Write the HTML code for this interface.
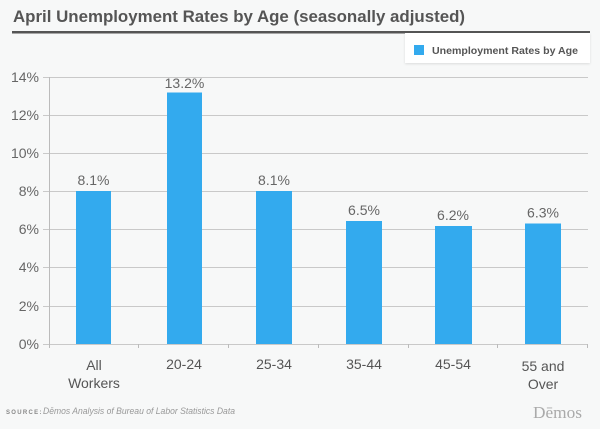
<!DOCTYPE html>
<html><head><meta charset="utf-8"><style>
html,body{margin:0;padding:0;background:#f7f8f8;}
svg{display:block;font-family:"Liberation Sans",Arial,sans-serif;}
</style></head><body>
<svg width="600" height="429" viewBox="0 0 600 429" xmlns="http://www.w3.org/2000/svg">
<defs>
<filter id="sh" x="-5%" y="-20%" width="110%" height="150%"><feGaussianBlur in="SourceAlpha" stdDeviation="1.2"/><feOffset dy="1"/><feComponentTransfer><feFuncA type="linear" slope="0.12"/></feComponentTransfer><feMerge><feMergeNode/><feMergeNode in="SourceGraphic"/></feMerge></filter>
</defs>
<rect width="600" height="429" fill="#f7f8f8"/>
<text x="13" y="22" font-size="17" font-weight="bold" fill="#555" textLength="452" lengthAdjust="spacingAndGlyphs">April Unemployment Rates by Age (seasonally adjusted)</text>
<rect x="12" y="31" width="578" height="2.5" fill="#555"/>
<rect x="405" y="33" width="185" height="30" fill="#fff" filter="url(#sh)"/>
<rect x="414" y="45" width="10" height="10" fill="#33aaee"/>
<text x="432" y="54" font-size="10" font-weight="bold" fill="#555" textLength="146" lengthAdjust="spacingAndGlyphs">Unemployment Rates by Age</text>
<g stroke="#c9c9c9" stroke-width="1">
<line x1="43" y1="77.5" x2="588" y2="77.5"/>
<line x1="43" y1="115.5" x2="588" y2="115.5"/>
<line x1="43" y1="153.5" x2="588" y2="153.5"/>
<line x1="43" y1="191.5" x2="588" y2="191.5"/>
<line x1="43" y1="229.5" x2="588" y2="229.5"/>
<line x1="43" y1="267.5" x2="588" y2="267.5"/>
<line x1="43" y1="306.5" x2="588" y2="306.5"/>
<line x1="43" y1="344.5" x2="588" y2="344.5"/>
</g>
<line x1="49.5" y1="77" x2="49.5" y2="345" stroke="#bbb"/>
<g stroke="#bbb">
<line x1="49.5" y1="344" x2="49.5" y2="348"/>
<line x1="138.5" y1="344" x2="138.5" y2="348"/>
<line x1="228.5" y1="344" x2="228.5" y2="348"/>
<line x1="318.5" y1="344" x2="318.5" y2="348"/>
<line x1="408.5" y1="344" x2="408.5" y2="348"/>
<line x1="497.5" y1="344" x2="497.5" y2="348"/>
<line x1="587.5" y1="344" x2="587.5" y2="348"/>
</g>
<g font-size="14" fill="#666" text-anchor="end">
<text x="39" y="82">14%</text>
<text x="39" y="120">12%</text>
<text x="39" y="158">10%</text>
<text x="39" y="196">8%</text>
<text x="39" y="234">6%</text>
<text x="39" y="272">4%</text>
<text x="39" y="311">2%</text>
<text x="39" y="349">0%</text>
</g>
<g fill="#33aaee">
<rect x="76" y="191" width="35" height="153"/>
<rect x="167" y="92.5" width="35" height="251.5"/>
<rect x="256" y="191" width="36" height="153"/>
<rect x="346" y="221" width="36" height="123"/>
<rect x="435" y="226" width="37" height="118"/>
<rect x="525" y="223.5" width="36" height="120.5"/>
</g>
<g font-size="14" fill="#666" text-anchor="middle">
<text x="93.5" y="185">8.1%</text>
<text x="184.5" y="88">13.2%</text>
<text x="274" y="185">8.1%</text>
<text x="364" y="215">6.5%</text>
<text x="453" y="220">6.2%</text>
<text x="543" y="217.5">6.3%</text>
</g>
<g font-size="14" fill="#555" text-anchor="middle">
<text x="94" y="370">All</text>
<text x="94" y="388">Workers</text>
<text x="184" y="369">20-24</text>
<text x="274" y="369">25-34</text>
<text x="364" y="369">35-44</text>
<text x="453" y="369">45-54</text>
<text x="543" y="371">55 and</text>
<text x="543" y="389">Over</text>
</g>
<text x="6" y="414" font-size="6" font-weight="bold" fill="#888" letter-spacing="1.3">SOURCE:</text>
<text x="43" y="414" font-size="9.5" font-style="italic" fill="#999" textLength="192" lengthAdjust="spacingAndGlyphs">Dēmos Analysis of Bureau of Labor Statistics Data</text>
<text x="533" y="418" font-size="17" fill="#aaa" font-family="Liberation Serif, serif" textLength="49" lengthAdjust="spacingAndGlyphs">Dēmos</text>
</svg>
</body></html>
